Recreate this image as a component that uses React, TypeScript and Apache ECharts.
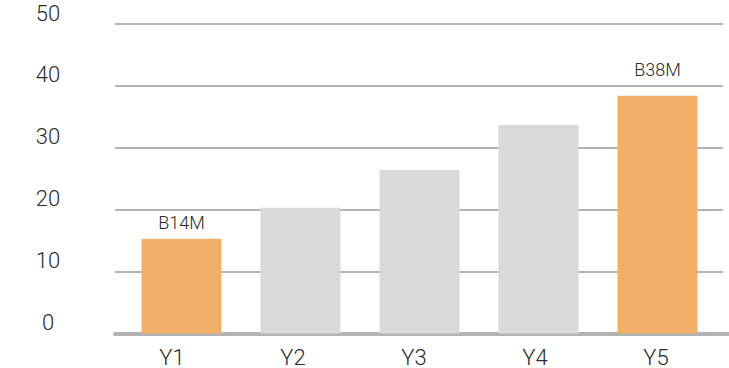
import React, { useEffect, useRef } from "react";
import * as echarts from "echarts";

const categories = ["Y1", "Y2", "Y3", "Y4", "Y5"];
const values = [15.3, 20.3, 26.4, 33.7, 38.4];
const valueLabels = ["B14M", "", "", "", "B38M"];
const highlighted = [true, false, false, false, true];
const labelDistances = [7, 0, 0, 0, 17];

const ORANGE = "#F1AF69";
const GRAY = "#D9D9D9";
const LINE = "#B3B3B3";
const TEXT = "#2a2a2a";
const FONT = "Roboto";
const WEIGHT = 300;

export default function App() {
  const ref = useRef<HTMLDivElement>(null);
  useEffect(() => {
    if (!ref.current) return;
    const chart = echarts.init(ref.current, undefined, { renderer: "svg" });
    const top = 24;
    const height = 309.5;
    chart.setOption({
      animation: false,
      grid: [
        { left: 115, right: 6, top, height },
        { left: 115, right: 0, top, height },
        { left: 122, width: 595, top, height },
        { left: 111.5, width: 605, top, height },
      ],
      xAxis: [
        { gridIndex: 0, type: "category", data: categories, show: false },
        {
          gridIndex: 1,
          type: "category",
          data: categories,
          axisLine: { show: true, lineStyle: { color: LINE, width: 4 } },
          axisTick: { show: false },
          axisLabel: { show: false },
        },
        { gridIndex: 2, type: "category", data: categories, show: false },
        {
          gridIndex: 3,
          type: "category",
          data: categories,
          axisLine: { show: false },
          axisTick: { show: false },
          axisLabel: {
            color: TEXT,
            fontFamily: FONT,
            fontWeight: WEIGHT,
            fontSize: 22,
            margin: 14,
          },
        },
      ],
      yAxis: [
        {
          gridIndex: 0,
          type: "value",
          min: 0,
          max: 50,
          interval: 10,
          axisLine: { show: false },
          axisTick: { show: false },
          splitLine: { show: true, lineStyle: { color: LINE, width: 2 } },
          axisLabel: {
            color: TEXT,
            fontFamily: FONT,
            fontWeight: WEIGHT,
            fontSize: 22,
            align: "center",
            verticalAlign: "bottom",
            margin: 67,
            showMinLabel: true,
            showMaxLabel: true,
          },
        },
        { gridIndex: 1, type: "value", min: 0, max: 50, show: false },
        { gridIndex: 2, type: "value", min: 0, max: 50, show: false },
        { gridIndex: 3, type: "value", min: 0, max: 50, show: false },
      ],
      series: [
        {
          type: "bar",
          xAxisIndex: 2,
          yAxisIndex: 2,
          barWidth: 80,
          z: 3,
          data: values.map((v, i) => ({
            value: v,
            itemStyle: { color: highlighted[i] ? ORANGE : GRAY },
            label: {
              show: valueLabels[i] !== "",
              position: "top",
              distance: labelDistances[i],
              formatter: valueLabels[i],
              color: TEXT,
              fontFamily: FONT,
              fontWeight: WEIGHT,
              fontSize: 18,
            },
          })),
        },
      ],
    });
    return () => chart.dispose();
  }, []);
  return <div ref={ref} style={{ width: 729, height: 368, position: "absolute", left: 0, top: 0 }} />;
}
